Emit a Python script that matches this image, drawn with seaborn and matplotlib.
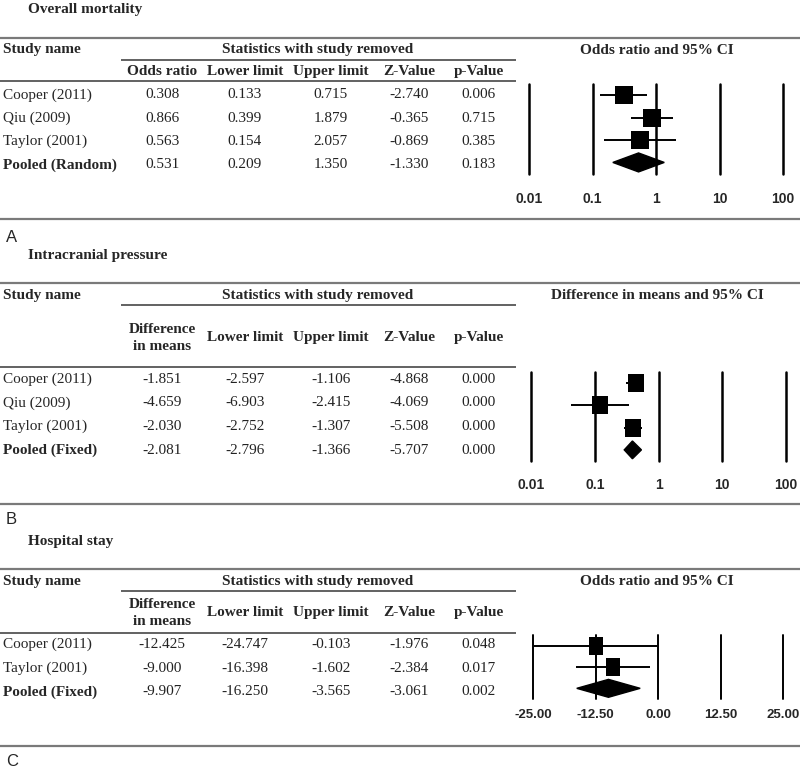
import matplotlib
matplotlib.use("Agg")
import matplotlib.pyplot as plt
import seaborn as sns
from matplotlib.ticker import NullLocator

# dados
col_labels_or = ["Odds ratio", "Lower limit", "Upper limit", "Z-Value", "p-Value"]
col_labels_md = ["Difference\nin means", "Lower limit", "Upper limit", "Z-Value", "p-Value"]

# A - mortalidade geral
mort_studies = ["Cooper (2011)", "Qiu (2009)", "Taylor (2001)", "Pooled (Random)"]
mort_or = [0.308, 0.866, 0.563, 0.531]
mort_low = [0.133, 0.399, 0.154, 0.209]
mort_high = [0.715, 1.879, 2.057, 1.350]
mort_z = [-2.740, -0.365, -0.869, -1.330]
mort_p = [0.006, 0.715, 0.385, 0.183]

# B - pressao intracraniana
icp_studies = ["Cooper (2011)", "Qiu (2009)", "Taylor (2001)", "Pooled (Fixed)"]
icp_diff = [-1.851, -4.659, -2.030, -2.081]
icp_low = [-2.597, -6.903, -2.752, -2.796]
icp_high = [-1.106, -2.415, -1.307, -1.366]
icp_z = [-4.868, -4.069, -5.508, -5.707]
icp_p = [0.000, 0.000, 0.000, 0.000]
# posicoes no grafico de floresta (escala log)
icp_plot_est = [0.44, 0.12, 0.40, 0.39]
icp_plot_low = [0.31, 0.042, 0.29, 0.29]
icp_plot_high = [0.60, 0.34, 0.55, 0.54]

# C - tempo de internacao
hs_studies = ["Cooper (2011)", "Taylor (2001)", "Pooled (Fixed)"]
hs_diff = [-12.425, -9.000, -9.907]
hs_low = [-24.747, -16.398, -16.250]
hs_high = [-0.103, -1.602, -3.565]
hs_z = [-1.976, -2.384, -3.061]
hs_p = [0.048, 0.017, 0.002]

log_ticks = [0.01, 0.1, 1, 10, 100]
log_ticklabels = ["0.01", "0.1", "1", "10", "100"]
lin_ticks = [-25, -12.5, 0, 12.5, 25]
lin_ticklabels = ["-25.00", "-12.50", "0.00", "12.50", "25.00"]

sns.set_style("white")
plt.rcParams['font.family'] = ['Liberation Serif', 'DejaVu Serif']

W, H = 800, 767
fig = plt.figure(figsize=(8, 7.67), dpi=100)
bg = fig.add_axes([0, 0, 1, 1])
bg.set_xlim(0, W)
bg.set_ylim(H, 0)
bg.axis('off')

FS = 11
col_x = [162, 245, 331, 409, 479]
tick_font = dict(family=['Liberation Sans Narrow', 'Liberation Sans'], weight='bold')


def draw_table(title, top_y, head_y, line_y, row_y0, row_dy, headers, studies, columns, plot_title, letter, letter_y):
    bg.text(28, top_y - 28, title, fontsize=FS, fontweight='bold', va='center')
    bg.hlines(top_y, 0, W, color='#7a7a7a', lw=1.6)
    bg.text(3, top_y + 12, "Study name", fontsize=FS, fontweight='bold', va='center')
    bg.text(318, top_y + 12, "Statistics with study removed", fontsize=FS, fontweight='bold', va='center', ha='center')
    bg.text(657, top_y + 12, plot_title, fontsize=FS, fontweight='bold', va='center', ha='center')
    bg.hlines(top_y + 22, 121, 516, color='#555555', lw=1.3)
    for x, h in zip(col_x, headers):
        bg.text(x, head_y, h, fontsize=FS, fontweight='bold', va='center', ha='center', linespacing=1.38)
    bg.hlines(line_y, 0, 516, color='#555555', lw=1.3)
    for i, name in enumerate(studies):
        y = row_y0 + i * row_dy
        bold = 'bold' if name.startswith('Pooled') else 'normal'
        bg.text(3, y, name, fontsize=FS, fontweight=bold, va='center')
        for x, col in zip(col_x, columns):
            bg.text(x, y, f"{col[i]:.3f}", fontsize=FS, va='center', ha='center', color='#222222')
    bg.text(6, letter_y, letter, fontsize=12, family=['Liberation Sans', 'DejaVu Sans'], va='center')


def px_rect(x0, x1, y0, y1):
    return [x0 / W, 1 - y1 / H, (x1 - x0) / W, (y1 - y0) / H]


def rect_marker(w, h):
    return [(-w, -h), (w, -h), (w, h), (-w, h), (-w, -h)]


def forest(rect, est, low, high, log, ticks, ticklabels, marker, msize, dh, pad, vlw, tfs):
    ax = fig.add_axes(rect)
    n = len(est)
    rows = list(range(n))
    if log:
        ax.set_xscale('log')
    ax.set_xlim(ticks[0], ticks[-1])
    ax.set_ylim(n - 0.5, -0.5)
    for t in ticks:
        ax.axvline(t, color='black', lw=vlw, clip_on=False, zorder=1)
    ax.hlines(rows[:-1], low[:-1], high[:-1], color='black', lw=1.4, zorder=2)
    sns.scatterplot(x=est[:-1], y=rows[:-1], marker=marker, s=msize, color='black',
                    linewidth=0, ax=ax, legend=False, zorder=3)
    r = rows[-1]
    ax.fill([low[-1], est[-1], high[-1], est[-1]], [r, r - dh, r, r + dh], color='black', zorder=3, clip_on=False)
    ax.set_xticks(ticks)
    ax.set_xticklabels(ticklabels, fontsize=tfs, **tick_font)
    ax.xaxis.set_minor_locator(NullLocator())
    ax.tick_params(axis='x', length=0, pad=pad)
    ax.set_yticks([])
    ax.set_xlabel('')
    ax.set_ylabel('')
    for sp in ax.spines.values():
        sp.set_visible(False)
    ax.patch.set_alpha(0)
    return ax


# painel A
draw_table("Overall mortality", 38, 71.7, 81, 95, 23.3, col_labels_or, mort_studies,
           [mort_or, mort_low, mort_high, mort_z, mort_p], "Odds ratio and 95% CI", "A", 237.5)
bg.hlines(219, 0, W, color='#7a7a7a', lw=1.6)
forest(px_rect(529, 783, 84.3, 173.6), mort_or, mort_low, mort_high, True, log_ticks, log_ticklabels,
       rect_marker(0.5, 0.46), 187, 0.425, 13, 1.8, 10)

# painel B
draw_table("Intracranial pressure", 283.3, 337.7, 366.7, 379.5, 23.5, col_labels_md, icp_studies,
           [icp_diff, icp_low, icp_high, icp_z, icp_p], "Difference in means and 95% CI", "B", 520)
bg.hlines(504, 0, W, color='#7a7a7a', lw=1.6)
forest(px_rect(531, 786, 372, 461), icp_plot_est, icp_plot_low, icp_plot_high, True, log_ticks, log_ticklabels,
       rect_marker(0.444, 0.5), 168, 0.40, 12.5, 1.8, 10)

# painel C
draw_table("Hospital stay", 569.3, 612.7, 632.7, 644.5, 23.7, col_labels_md, hs_studies,
           [hs_diff, hs_low, hs_high, hs_z, hs_p], "Odds ratio and 95% CI", "C", 761)
bg.hlines(746, 0, W, color='#7a7a7a', lw=1.6)
forest(px_rect(533, 783, 635, 699), hs_diff, hs_low, hs_high, False, lin_ticks, lin_ticklabels,
       rect_marker(0.4, 0.5), 150, 0.42, 7, 1.4, 9.5)

fig.savefig("out.png", dpi=100, facecolor='white')
